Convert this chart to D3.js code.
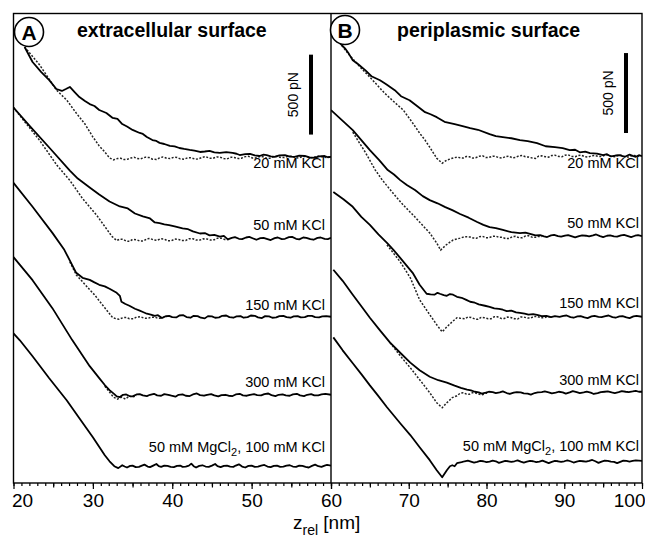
<!DOCTYPE html>
<html>
<head>
<meta charset="utf-8">
<script src="https://cdn.jsdelivr.net/npm/d3@7"></script>
<style>
  body { margin: 0; background: #fff; }
  svg { display: block; font-family: "Liberation Sans", Arial, sans-serif; }
</style>
</head>
<body>
<svg id="chart"></svg>
<script>
// x in nm (z_rel), y in pN relative to the trace's own baseline
var saltLabels = ["20 mM KCl", "50 mM KCl", "150 mM KCl", "300 mM KCl", "50 mM MgCl|2|, 100 mM KCl"];

var domainA = [20, 60];
var domainB = [60, 100];
var majorTicksA = [20, 30, 40, 50, 60];
var majorTicksB = [60, 70, 80, 90, 100];
var tickLabelsA = ["20", "30", "40", "50", "60"];
var tickLabelsB = ["", "70", "80", "90", "100"];

// baseline force offset (pN) of each stacked trace
var offsetsA = [2040, 1530, 1040, 550, 105];
var offsetsB = [2045, 1545, 1040, 565, 130];

var scaleBarForce = 500;

// extracellular surface, approach (solid)
var extraApproach = [
  [[21.4,688],[22.4,594],[23.5,531],[24.5,481],[25.4,425],[26.1,413],[26.6,425],[27.1,438],[27.7,406],[28.3,375],[29.0,350],[29.6,331],[30.2,319],[30.8,294],[31.7,275],[32.5,244],[33.1,238],[33.7,206],[34.3,190],[35.0,169],[35.9,150],[36.3,144],[36.8,125],[37.5,106],[38.0,100],[38.4,88],[39.0,81],[39.7,69],[40.3,66],[40.9,56],[41.5,50],[42.2,44],[42.8,40],[43.5,31],[44.1,34],[44.7,38],[45.3,28],[46.0,25],[46.8,30],[47.6,25],[48.1,20],[48.5,12],[49.2,18],[49.8,19],[50.4,10],[51.0,6],[51.5,14],[51.9,12],[52.4,4],[52.9,0],[53.5,10],[54.2,12],[54.8,2],[55.4,0],[56.0,8],[56.7,6],[57.3,-2],[57.9,-6],[58.5,4],[59.2,6],[59.6,-2],[60,0]],
  [[20.0,819],[22.0,706],[24.5,569],[27.1,425],[28.1,375],[29.6,319],[30.8,275],[32.1,231],[33.4,200],[34.4,188],[35.3,156],[36.3,138],[37.2,125],[37.8,100],[38.4,96],[39.0,88],[39.6,84],[40.3,75],[41.3,63],[42.0,58],[42.6,44],[43.5,31],[44.1,34],[44.7,19],[45.3,22],[46.0,12],[46.5,16],[47.0,-6],[47.5,4],[47.9,8],[48.4,-2],[48.8,-4],[49.3,6],[49.7,10],[50.2,0],[50.6,-8],[51.1,2],[51.5,4],[52.0,-4],[52.4,-10],[52.9,2],[53.3,6],[53.8,-4],[54.2,-2],[54.7,8],[55.1,10],[55.6,-2],[56.0,-6],[56.5,6],[56.9,4],[57.4,-4],[57.8,-8],[58.3,4],[58.7,6],[59.2,-2],[59.6,-4],[60,4]],
  [[20.0,838],[22.4,688],[24.9,525],[26.4,419],[27.9,275],[28.7,244],[29.6,231],[30.2,215],[30.8,200],[31.5,190],[32.1,175],[33.0,150],[33.4,131],[33.6,94],[34.1,80],[34.6,69],[35.3,50],[35.9,38],[36.3,30],[36.8,19],[37.3,14],[37.8,6],[38.2,10],[38.7,-8],[39.1,2],[39.6,6],[40.0,-2],[40.5,-4],[40.9,8],[41.4,10],[41.8,-2],[42.3,-6],[42.7,6],[43.2,4],[43.6,-6],[44.1,-10],[44.5,4],[45.0,2],[45.4,-6],[45.9,-4],[46.3,6],[46.8,8],[47.2,-2],[47.7,-6],[48.1,2],[48.6,4],[49.0,-6],[49.5,-2],[49.9,8],[50.4,6],[50.8,-4],[51.3,-8],[51.7,4],[52.2,2],[52.6,-6],[53.1,-4],[53.5,4],[54.0,6],[54.4,-2],[54.9,-6],[55.3,2],[55.8,4],[56.2,-4],[56.7,-2],[57.1,6],[57.6,6],[58.0,-2],[58.5,-4],[58.9,2],[59.4,4],[60,0]],
  [[20.0,863],[22.4,719],[24.9,544],[27.4,344],[29.6,181],[30.8,106],[31.5,63],[32.1,31],[32.7,6],[33.0,-8],[33.4,-12],[33.8,2],[34.2,4],[34.6,-6],[35.0,-8],[35.5,4],[35.9,6],[36.3,-2],[36.8,-6],[37.2,2],[37.7,8],[38.1,-2],[38.6,-4],[39.0,6],[39.5,2],[39.9,-4],[40.4,-10],[40.8,2],[41.3,4],[41.7,-4],[42.2,-6],[42.6,4],[43.1,10],[43.5,0],[44.0,-4],[44.4,2],[44.9,6],[45.3,-2],[45.8,-8],[46.2,0],[46.7,2],[47.1,-4],[47.6,-6],[48.0,4],[48.5,8],[48.9,-2],[49.4,-4],[49.8,2],[50.3,6],[50.7,0],[51.2,-2],[51.6,6],[52.1,10],[52.5,0],[53.0,-6],[53.4,2],[53.9,4],[54.3,-2],[54.8,-4],[55.2,4],[55.7,8],[56.1,-2],[56.6,-6],[57.0,2],[57.5,6],[57.9,-2],[58.4,-2],[58.8,4],[59.3,8],[60,2]],
  [[20.0,831],[20.8,788],[22.4,688],[24.5,550],[26.7,413],[28.3,300],[30.0,181],[31.5,69],[32.1,31],[32.7,0],[33.2,-12],[33.7,6],[34.0,-2],[34.3,-8],[34.7,2],[35.0,4],[35.4,-6],[35.8,-4],[36.1,2],[36.5,10],[36.9,-2],[37.2,-6],[37.6,4],[38.0,14],[38.3,0],[38.6,-4],[39.0,4],[39.4,2],[39.8,-4],[40.2,-6],[40.6,2],[41.0,4],[41.3,-4],[41.7,-2],[42.1,4],[42.4,16],[42.7,0],[43.0,-8],[43.4,2],[43.8,6],[44.2,-2],[44.6,-4],[45.0,4],[45.4,14],[45.7,0],[46.1,-6],[46.5,2],[46.9,4],[47.3,-2],[47.7,-4],[48.0,4],[48.4,12],[48.8,-2],[49.2,-8],[49.6,2],[50.0,4],[50.4,-4],[50.8,-2],[51.2,4],[51.6,8],[52.0,-2],[52.4,-6],[52.8,2],[53.2,4],[53.6,-4],[54.0,-2],[54.4,4],[54.8,6],[55.2,-2],[55.6,-4],[56.0,4],[56.4,2],[56.8,-4],[57.2,-8],[57.6,2],[58.0,10],[58.4,0],[58.8,-4],[59.2,4],[59.5,8],[60,4]]
];

// extracellular surface, retraction (dotted)
var extraRetract = [
  [[21.4,688],[23.3,575],[25.4,419],[26.7,356],[27.9,275],[29.0,206],[30.0,125],[30.8,69],[31.5,31],[32.1,-6],[32.6,-18],[33.1,-10],[33.5,-8],[33.9,-16],[34.3,-15],[34.8,-6],[35.2,-2],[35.6,-10],[36.0,-12],[36.6,-2],[37.1,-4],[37.5,-14],[38.0,-16],[38.4,-6],[38.8,0],[39.3,-8],[39.7,-10],[40.2,-2],[40.6,-3],[41.0,-12],[41.5,-14],[42.0,-4],[42.4,-5],[42.9,-14],[43.3,-12],[43.8,-2],[44.2,2],[44.7,-8],[45.1,-9],[45.6,0],[46.0,-1],[46.5,-10],[46.9,-12],[47.4,-2],[47.8,-3],[48.3,-10],[48.7,-8],[49.2,2],[49.6,4],[50.1,-6],[50.5,-6],[51.0,2],[51.4,2],[51.9,-8],[52.3,-8],[52.8,2],[53.2,4],[53.7,-4],[54.1,-4],[54.6,4],[55.0,6],[55.5,-4],[55.9,-6],[56.4,2],[56.8,3],[57.3,-4],[57.7,-5],[58.2,4],[58.6,5],[59.1,-2],[59.5,-3],[60,2]],
  [[20.0,819],[21.4,731],[23.3,613],[25.5,456],[27.1,363],[28.7,250],[30.5,144],[31.5,75],[32.4,13],[33.0,-13],[33.4,-4],[33.8,-5],[34.2,-16],[34.6,-18],[35.0,-6],[35.5,-8],[35.9,-16],[36.4,-15],[36.8,-2],[37.2,0],[37.7,-10],[38.1,-12],[38.5,-2],[39.0,-4],[39.4,-14],[39.9,-14],[40.3,-4],[40.8,-6],[41.2,-12],[41.7,-12],[42.1,-2],[42.6,-2],[43.0,-10],[43.5,-10],[43.9,-2],[44.4,-4],[44.8,-10],[45.3,-8],[45.7,2],[46.2,2],[46.6,-6],[47.1,-6]],
  [[27.1,344],[27.9,263],[28.7,219],[29.6,169],[30.2,138],[30.8,100],[31.5,56],[32.1,19],[32.5,-6],[32.9,-12],[33.3,-15],[33.8,-6],[34.2,-4],[34.6,-12],[35.1,-12],[35.5,-2],[36.0,0],[36.4,-8],[36.9,-10],[37.3,-4],[37.8,-2],[38.2,-10],[38.7,-8],[39.1,2],[39.5,4]],
  [[31.5,56],[32.1,19],[32.6,-13],[33.1,-25],[33.6,-13],[34.1,-25],[34.6,-6],[35.0,-12],[35.5,-4]],
  []
];

// periplasmic surface, approach (solid)
var periApproach = [
  [[60.5,744],[61.3,700],[61.8,675],[62.3,640],[62.8,600],[63.5,575],[64.4,538],[65.2,500],[66.3,475],[67.1,450],[68.2,413],[69.0,375],[70.1,350],[70.9,320],[72.1,275],[72.8,262],[73.6,244],[74.6,215],[75.9,200],[76.8,190],[77.9,175],[78.9,165],[80.4,138],[81.2,125],[82.1,119],[83.2,112],[84.3,100],[85.3,94],[86.5,81],[87.6,62],[88.8,56],[89.8,50],[90.7,38],[91.4,40],[92.0,24],[92.7,28],[93.3,19],[94.2,16],[95.0,6],[95.5,12],[96.0,-2],[96.6,4],[97.1,6],[97.8,-4],[98.4,10],[98.8,2],[99.2,-4],[99.6,6],[100,0]],
  [[60.0,788],[61.4,725],[62.8,663],[63.9,600],[65.0,538],[66.2,475],[67.3,413],[68.1,385],[68.9,350],[69.8,318],[70.8,288],[71.8,250],[72.7,225],[73.7,205],[74.7,181],[75.6,162],[76.6,138],[77.7,115],[78.8,88],[79.6,70],[80.4,56],[81.2,50],[82.1,38],[83.2,24],[84.3,19],[85.0,22],[85.6,14],[86.3,4],[86.9,6],[87.4,-2],[87.8,-6],[88.3,4],[88.7,8],[89.2,0],[89.6,-4],[90.1,2],[90.5,6],[91.0,-2],[91.4,-8],[91.9,0],[92.3,4],[92.8,2],[93.2,-2],[93.7,4],[94.1,10],[94.6,0],[95.0,-6],[95.5,2],[95.9,4],[96.4,-2],[96.8,-4],[97.3,4],[97.7,8],[98.2,0],[98.6,-6],[99.1,2],[99.5,6],[100,0]],
  [[60.3,781],[61.6,735],[62.8,688],[63.9,625],[65.0,575],[66.1,515],[67.2,463],[68.0,420],[68.9,369],[69.7,322],[70.5,275],[71.4,200],[72.3,144],[72.8,140],[73.3,138],[73.7,150],[74.0,144],[74.5,136],[74.9,131],[75.3,142],[75.7,138],[76.2,125],[76.8,119],[77.4,106],[77.9,94],[78.5,88],[79.0,78],[79.8,69],[80.4,62],[81.0,52],[81.6,50],[82.1,44],[82.6,36],[83.2,38],[83.8,28],[84.3,25],[84.9,20],[85.4,14],[86.0,16],[86.5,12],[87.1,4],[87.7,6],[88.3,-2],[88.8,4],[89.4,0],[89.9,6],[90.3,8],[90.8,-2],[91.2,-6],[91.7,2],[92.1,4],[92.6,-4],[93.0,-8],[93.5,2],[93.9,6],[94.4,0],[94.8,-2],[95.3,4],[95.7,8],[96.2,-2],[96.6,-6],[97.1,2],[97.5,4],[98.0,-4],[98.4,-8],[98.9,2],[99.3,6],[100,0]],
  [[60.3,769],[61.5,700],[62.8,613],[64.0,535],[65.0,469],[66.3,390],[67.6,313],[68.9,250],[70.2,188],[71.4,140],[72.7,100],[73.8,78],[74.9,63],[75.9,44],[76.7,30],[77.5,19],[78.0,14],[78.5,6],[79.0,2],[79.4,-6],[79.9,0],[80.3,6],[80.8,4],[81.2,-2],[81.7,2],[82.1,8],[82.6,-2],[83.0,-8],[83.5,0],[83.9,4],[84.4,2],[84.8,-4],[85.3,-6],[85.7,-12],[86.2,-2],[86.6,2],[87.1,4],[87.5,8],[88.0,2],[88.4,-4],[88.9,0],[89.3,6],[89.8,2],[90.2,-6],[90.7,2],[91.1,10],[91.6,4],[92.0,-2],[92.5,2],[92.9,6],[93.4,0],[93.8,-8],[94.3,-2],[94.7,4],[95.2,6],[95.6,8],[96.1,2],[96.5,-2],[97.0,4],[97.4,10],[97.9,6],[98.3,4],[98.8,8],[99.2,12],[99.6,6],[100,6]],
  [[60.3,781],[61.5,700],[62.8,619],[64.0,545],[65.0,481],[66.0,420],[67.2,344],[68.9,244],[70.2,170],[71.4,94],[72.7,13],[73.6,-50],[74.3,-94],[74.9,-50],[75.3,-25],[75.6,-19],[75.9,-25],[76.2,-6],[76.8,0],[77.2,6],[77.6,10],[78.0,4],[78.4,-2],[78.8,2],[79.2,8],[79.6,6],[80.0,0],[80.4,4],[80.8,10],[81.2,6],[81.6,-4],[82.0,2],[82.4,8],[82.8,6],[83.2,2],[83.6,6],[84.0,12],[84.4,4],[84.8,-2],[85.2,4],[85.6,8],[86.0,6],[86.4,0],[86.8,4],[87.2,10],[87.6,2],[88.0,-6],[88.4,2],[88.8,8],[89.2,6],[89.6,2],[90.0,6],[90.4,12],[90.8,6],[91.2,-2],[91.6,4],[92.0,8],[92.4,6],[92.8,4],[93.2,8],[93.6,14],[94.0,6],[94.4,-4],[94.8,4],[95.2,10],[95.6,8],[96.0,4],[96.4,2],[96.8,-6],[97.2,2],[97.6,10],[98.0,8],[98.4,4],[98.8,8],[99.2,12],[99.6,10],[100,8]]
];

// periplasmic surface, retraction (dotted)
var periRetract = [
  [[60.5,744],[62.4,631],[63.7,560],[65.0,494],[66.9,394],[68.1,340],[69.3,288],[70.4,215],[71.4,144],[72.1,100],[72.7,56],[73.6,-13],[74.3,-44],[74.9,-25],[75.6,-13],[76.2,-6],[76.6,-10],[77.0,-12],[77.4,-2],[77.8,-4],[78.2,-12],[78.6,-10],[79.1,0],[79.5,2],[79.9,-8],[80.3,-8],[80.8,0],[81.2,-2],[81.6,-10],[82.0,-12],[82.5,-2],[82.9,0],[83.3,-10],[83.7,-8],[84.2,2],[84.6,4],[85.0,-4],[85.4,-6],[85.9,-12],[86.3,-14],[86.7,0],[87.1,2],[87.6,-4],[88.0,-6],[88.4,4],[88.8,6],[89.3,-2],[89.7,-4],[90.1,6],[90.5,8],[91.0,-2],[91.4,-4],[91.8,4],[92.2,6],[92.7,-4],[93.1,-6],[93.5,2],[93.9,4],[94.4,-2],[94.8,-2],[95.2,6],[95.6,8],[96.1,-2],[96.5,-4],[96.9,4],[97.3,6],[97.8,-4],[98.2,-6],[98.6,2],[99.0,4],[99.4,0],[99.8,-2]],
  [[62.8,650],[64.4,525],[65.7,413],[66.6,350],[68.2,256],[69.3,194],[70.8,119],[72.7,19],[73.6,-44],[74.1,-88],[74.8,-56],[75.3,-38],[75.7,-25],[76.6,-13],[77.2,-4],[77.9,-6],[78.3,-12],[78.7,-14],[79.1,-4],[79.5,-2],[79.9,-10],[80.3,-10],[80.8,-2],[81.2,0],[81.6,-8],[82.0,-8],[82.5,-16],[82.9,-16],[83.3,-4],[83.7,-2],[84.2,-10],[84.6,-10],[85.0,0],[85.4,2],[85.9,-8],[86.3,-8],[86.7,-2],[87.1,-2]],
  [[67.2,450],[68.9,344],[70.2,244],[71.4,106],[72.1,56],[72.7,13],[73.6,-50],[74.3,-94],[74.9,-63],[75.6,-31],[76.2,-6],[76.7,-10],[77.2,-13],[77.6,-2],[78.0,-4],[78.5,-14],[78.9,-16],[79.3,-4],[79.7,-6],[80.2,-12],[80.6,-12],[81.0,0],[81.4,0],[81.9,-10],[82.3,-10],[82.7,-2],[83.1,-4],[83.6,-12],[84.0,-14],[84.4,-2],[84.8,-2],[85.3,-8],[85.7,-8],[86.1,2],[86.5,2],[87.0,-6],[87.4,-6],[87.8,0],[88.2,0]],
  [[67.6,313],[68.9,231],[70.2,156],[71.4,81],[72.1,38],[72.7,0],[73.6,-63],[74.3,-94],[74.9,-63],[75.6,-31],[76.2,-19],[76.6,-4],[77.0,0],[77.4,-8],[77.8,-10],[78.2,0],[78.6,-2],[79.1,-10],[79.5,-12],[79.9,-2],[80.3,-4]],
  []
];

var width = 645, height = 540;
var frame = {left: 13.5, top: 13.5, mid: 331, right: 642, bottom: 483};

var svg = d3.select("#chart")
            .attr("width", width)
            .attr("height", height);

// force axis shared by both panels (no drawn axis, only the scale bar)
var y = d3.scaleLinear()
          .domain([0, 2937.5])
          .range([frame.bottom, frame.top]);

function drawPanel(p) {
    var x = d3.scaleLinear().domain(p.domain).range(p.range);

    svg.append("clipPath")
         .attr("id", "clip-" + p.id)
       .append("rect")
         .attr("x", p.range[0])
         .attr("y", frame.top)
         .attr("width", p.range[1] - p.range[0])
         .attr("height", frame.bottom - frame.top);

    var g = svg.append("g")
               .attr("clip-path", "url(#clip-" + p.id + ")");

    for (var i = 0; i < p.approach.length; i++) {
        var off = p.offsets[i];
        var line = d3.line()
                     .x(d => x(d[0]))
                     .y(d => y(d[1] + off));

        if (p.retract[i].length) {
            g.append("path")
              .attr("d", line(p.retract[i]))
              .attr("fill", "none")
              .attr("stroke", "#222")
              .attr("stroke-width", 1.5)
              .attr("stroke-dasharray", "2,1.6");
        }
        g.append("path")
          .attr("d", line(p.approach[i]))
          .attr("fill", "none")
          .attr("stroke", "#000")
          .attr("stroke-width", 1.8)
          .attr("stroke-linejoin", "round");

        // salt condition label, right aligned above/below the baseline
        var parts = saltLabels[i].split("|");
        var t = svg.append("text")
                   .attr("x", p.labelRight)
                   .attr("y", y(off) + p.labelDy[i])
                   .attr("text-anchor", "end")
                   .attr("font-size", "14.5px")
                   .text(parts[0]);
        if (parts.length > 1) {
            t.append("tspan").attr("font-size", "11px").attr("dy", 4).text(parts[1]);
            t.append("tspan").attr("dy", -4).text(parts[2]);
        }
    }

    // x axis: minor ticks every nm, medium every 5, labelled every 10
    var axisG = svg.append("g")
                   .attr("transform", "translate(0," + frame.bottom + ")");
    axisG.append("g")
         .call(d3.axisBottom(x).tickValues(d3.range(p.domain[0], p.domain[1] + 1, 1)).tickSize(3).tickFormat(""));
    axisG.append("g")
         .call(d3.axisBottom(x).tickValues(d3.range(p.domain[0] + 5, p.domain[1], 10)).tickSize(4.5).tickFormat(""));
    axisG.append("g")
         .call(d3.axisBottom(x)
                 .tickValues(p.majorTicks)
                 .tickSize(6)
                 .tickPadding(5)
                 .tickFormat((d, k) => p.tickLabels[k]));
    axisG.selectAll(".domain").remove();
    axisG.selectAll(".tick line").attr("stroke", "#000").attr("stroke-width", 1.2);
    axisG.selectAll(".tick text")
         .attr("font-size", "19px")
         .attr("font-family", "Liberation Sans, Arial, sans-serif")
         .attr("fill", "#000");

    // panel title
    svg.append("text")
        .attr("x", p.titleX)
        .attr("y", 37)
        .attr("font-size", "19.5px")
        .attr("font-weight", "bold")
        .text(p.title);

    // circled panel letter
    svg.append("circle")
        .attr("cx", p.letterX)
        .attr("cy", p.letterY)
        .attr("r", 14.5)
        .attr("fill", "#fff")
        .attr("stroke", "#000")
        .attr("stroke-width", 1.6);
    svg.append("text")
        .attr("class", "letter")
        .attr("x", p.letterX)
        .attr("y", p.letterY)
        .attr("dy", "0.36em")
        .attr("text-anchor", "middle")
        .attr("font-size", "21px")
        .attr("font-weight", "bold")
        .text(p.letter);

    // 500 pN scale bar
    svg.append("line")
        .attr("x1", p.barX).attr("x2", p.barX)
        .attr("y1", y(p.barTop))
        .attr("y2", y(p.barTop - scaleBarForce))
        .attr("stroke", "#000")
        .attr("stroke-width", 4);
    svg.append("text")
        .attr("transform", "translate(" + (p.barX - 13) + "," + y(p.barTop - scaleBarForce / 2) + ") rotate(-90)")
        .attr("text-anchor", "middle")
        .attr("font-size", "14px")
        .text(scaleBarForce + " pN");

    return axisG;
}

var axisA = drawPanel({
    id: "a", domain: domainA, range: [frame.left, frame.mid],
    approach: extraApproach, retract: extraRetract, offsets: offsetsA,
    labelRight: 325, labelDy: [11, -8, -7, -8, -14],
    majorTicks: majorTicksA, tickLabels: tickLabelsA,
    title: "extracellular surface", titleX: 77,
    letter: "A", letterX: 29, letterY: 32,
    barX: 311, barTop: 2680
});
var axisB = drawPanel({
    id: "b", domain: domainB, range: [frame.mid, frame.right],
    approach: periApproach, retract: periRetract, offsets: offsetsB,
    labelRight: 639, labelDy: [12, -8, -9, -8, -11],
    majorTicks: majorTicksB, tickLabels: tickLabelsB,
    title: "periplasmic surface", titleX: 397,
    letter: "B", letterX: 345, letterY: 30,
    barX: 626, barTop: 2690
});

// keep the end labels inside the picture
axisA.selectAll(".tick text").filter(d => d === domainA[0]).attr("text-anchor", "start").attr("dx", -2);
axisB.selectAll(".tick text").filter(d => d === domainB[1]).attr("text-anchor", "end").attr("dx", 3);

// panel frames
svg.append("rect")
    .attr("x", frame.left)
    .attr("y", frame.top)
    .attr("width", frame.right - frame.left)
    .attr("height", frame.bottom - frame.top)
    .attr("fill", "none")
    .attr("stroke", "#000")
    .attr("stroke-width", 1.4);
svg.append("line")
    .attr("x1", frame.mid).attr("x2", frame.mid)
    .attr("y1", frame.top).attr("y2", frame.bottom)
    .attr("stroke", "#000")
    .attr("stroke-width", 1.4);

// letter circles sit above the frame lines
svg.selectAll("circle").raise();
svg.selectAll("text.letter").raise();

// x axis title
var xt = svg.append("text")
            .attr("x", 293)
            .attr("y", 529)
            .attr("font-size", "19px")
            .text("z");
xt.append("tspan").attr("font-size", "14px").attr("dy", 6).text("rel");
xt.append("tspan").attr("dy", -6).text(" [nm]");
</script>
</body>
</html>
